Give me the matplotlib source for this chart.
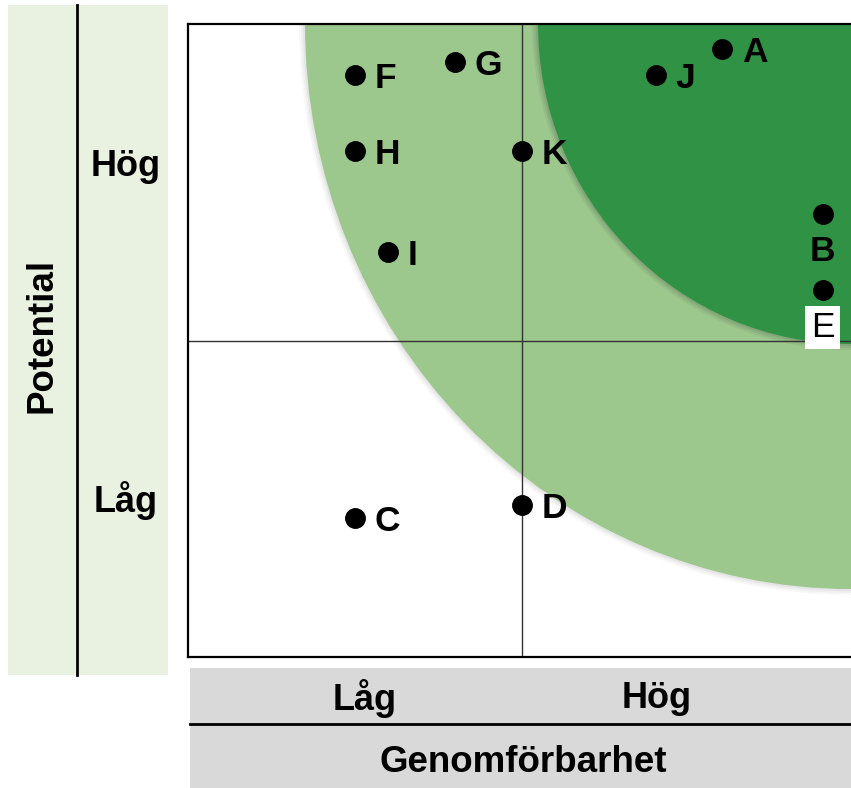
import matplotlib.pyplot as plt
from matplotlib.patches import Ellipse, Rectangle

plt.rcParams['font.family'] = ['Liberation Sans', 'DejaVu Sans']

# Data: position on Genomförbarhet (x) and Potential (y), 0-2 scale, quadrant split at 1
labels = ['A', 'B', 'C', 'D', 'E', 'F', 'G', 'H', 'I', 'J', 'K']
genomforbarhet = [1.60, 1.90, 0.50, 1.00, 1.90, 0.50, 0.80, 0.50, 0.60, 1.40, 1.00]
potential = [1.92, 1.40, 0.44, 0.48, 1.16, 1.84, 1.88, 1.60, 1.28, 1.84, 1.60]
level_labels = ['Låg', 'Hög']

W, H = 851, 788
fig = plt.figure(figsize=(W / 100, H / 100), dpi=100)

# background layer in pixel coords for the side/bottom panels
bg = fig.add_axes([0, 0, 1, 1], zorder=0)
bg.set_xlim(0, W)
bg.set_ylim(H, 0)
bg.axis('off')

bg.add_patch(Rectangle((8, 5), 160, 670, color='#e9f1e1', lw=0))
bg.plot([77, 77], [5, 675], color='black', lw=2)
bg.text(42, 335, 'Potential', rotation=90, ha='center', va='center',
        fontsize=26.5, fontweight='bold')
bg.text(126, 166, level_labels[1], ha='center', va='center', fontsize=26, fontweight='bold')
bg.text(126, 501, level_labels[0], ha='center', va='center', fontsize=26, fontweight='bold')

bg.add_patch(Rectangle((190, 668), W - 190, 120, color='#d9d9d9', lw=0))
bg.plot([190, W], [724, 724], color='black', lw=2)
bg.text(365, 698, level_labels[0], ha='center', va='center', fontsize=26, fontweight='bold')
bg.text(657, 698, level_labels[1], ha='center', va='center', fontsize=26, fontweight='bold')
bg.text(523, 762, 'Genomförbarhet', ha='center', va='center', fontsize=26.5, fontweight='bold')

# main chart
x0, y0, y1 = 188, 24, 657
ax = fig.add_axes([x0 / W, (H - y1) / H, (W - x0) / W, (y1 - y0) / H], zorder=1)
xmax = (W - x0) / 334
ax.set_xlim(0, xmax)
ax.set_ylim(0, 2)
ax.set_xticks([])
ax.set_yticks([])
for s in ['left', 'top', 'bottom']:
    ax.spines[s].set_linewidth(1.6)
ax.spines['right'].set_visible(False)

cx, cy = xmax, 2.0
# soft shadow around the circles
for k, a in [(6, 0.05), (4, 0.07), (2, 0.09)]:
    ax.add_patch(Ellipse((cx, cy), 2 * (546 + k) / 334, 2 * (565 + k) / 316.5,
                         color='gray', alpha=a, lw=0, zorder=1))
ax.add_patch(Ellipse((cx, cy), 2 * 546 / 334, 2 * 565 / 316.5, color='#9cc78d', lw=0, zorder=1.5))
for k, a in [(6, 0.06), (4, 0.08), (2, 0.1)]:
    ax.add_patch(Ellipse((cx, cy), 2 * (313 + k) / 334, 2 * (320 + k) / 316.5,
                         color='#333333', alpha=a, lw=0, zorder=1.6))
ax.add_patch(Ellipse((cx, cy), 2 * 313 / 334, 2 * 320 / 316.5, color='#2f9244', lw=0, zorder=1.7))

ax.axvline(1, color='#333333', lw=1, zorder=2)
ax.axhline(1, color='#333333', lw=1, zorder=2)

ax.plot(genomforbarhet, potential, 'o', color='black', markersize=14, zorder=3)
for lab, x, y in zip(labels, genomforbarhet, potential):
    if lab == 'B':
        ax.annotate(lab, (x, y), xytext=(0, -27), textcoords='offset points',
                    ha='center', va='center', fontsize=25.5, fontweight='bold', zorder=4)
    elif lab == 'E':
        ax.annotate(lab, (x, y), xytext=(0, -27), textcoords='offset points',
                    ha='center', va='center', fontsize=25.5, zorder=4,
                    bbox=dict(boxstyle='square,pad=0.15', fc='white', ec='none'))
    else:
        ax.annotate(lab, (x, y), xytext=(14, -2.5), textcoords='offset points',
                    ha='left', va='center', fontsize=25.5, fontweight='bold', zorder=4)

plt.savefig('out.png', dpi=100)
